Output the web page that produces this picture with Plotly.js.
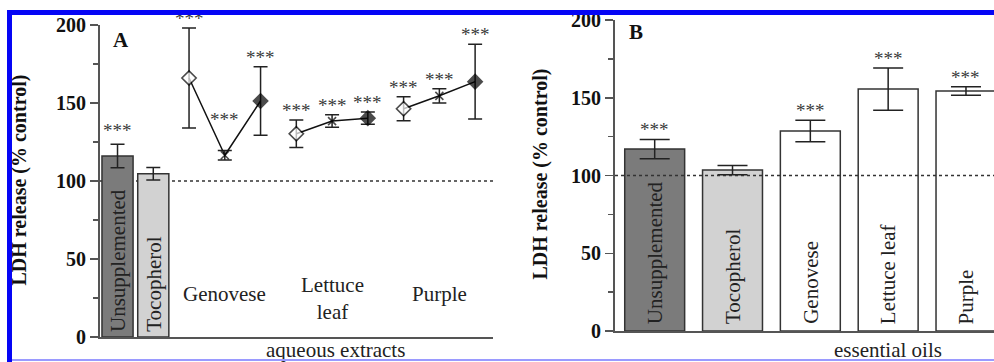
<!DOCTYPE html>
<html>
<head>
<meta charset="utf-8">
<script src="https://cdn.plot.ly/plotly-3.0.1.min.js"></script>
<style>
  html, body { margin: 0; padding: 0; background: #ffffff; overflow: hidden; }
  #wrap { position: relative; width: 994px; height: 362px; }
  #chart { position: absolute; left: 0; top: 0; width: 994px; height: 362px; }
  .frame { position: absolute; pointer-events: none; z-index: 10; }
</style>
</head>
<body>
<div id="wrap">
  <div id="chart"></div>
  <div class="frame" style="left:7px; top:10px; width:987px; height:4.5px; background:#0505f5;"></div>
  <div class="frame" style="left:7px; top:10px; width:5px; height:352px; background:#0505f5;"></div>
  <div class="frame" style="left:12px; top:359px; width:982px; height:1.5px; background:#9a9aff;"></div>
</div>
<script>
// ---------------- data ----------------
const yTickVals = [0, 50, 100, 150, 200];
const controlLevel = 100;

// Panel A: aqueous extracts
const barCatsA = ["Unsupplemented", "Tocopherol"];
const barValsA = [116, 104.7];
const barErrA  = [7.5, 4];
const barSigA  = ["***", ""];

const groupNames = ["Genovese", "Lettuce leaf", "Purple"];
const doseLabels = ["1", "2", "3"];
const genoveseVals = [166, 116.5, 151.3];
const genoveseErr  = [32, 3, 22];
const lettuceVals  = [130.3, 138.4, 140.3];
const lettuceErr   = [8.8, 4, 4];
const purpleVals   = [146.3, 154.6, 163.7];
const purpleErr    = [7.7, 4.6, 24];
const groupSig     = ["***", "***", "***"];
const groupLabelText = ["Genovese", "Lettuce<br>leaf", "Purple"];
const xTitleA = "aqueous extracts";

// Panel B: essential oils
const catsB = ["Unsupplemented", "Tocopherol", "Genovese", "Lettuce leaf", "Purple"];
const valsB = [117, 103.5, 128.6, 155.6, 154.3];
const errB  = [6.2, 3, 6.9, 13.6, 2.7];
const sigB  = ["***", "", "***", "***", "***"];
const xTitleB = "essential oils";

const yTitle = "LDH release (% control)";

// ---------------- styling / construction ----------------
const W = 994, H = 362;
const px = v => v / W;
const py = v => 1 - v / H;
const serif = "'Liberation Serif', 'Times New Roman', Times, serif";
const axisCol = "#555555";
const darkFill = "#7b7b7b", lightFill = "#d2d2d2";

const groupVals = [genoveseVals, lettuceVals, purpleVals];
const groupErr = [genoveseErr, lettuceErr, purpleErr];
const groupCats = groupNames.map(g => doseLabels.map(d => g + " " + d));
const catsA = barCatsA.concat(...groupCats);

const traces = [];

// Panel A bars
traces.push({
  type: "bar", x: barCatsA, y: barValsA, xaxis: "x", yaxis: "y",
  width: 0.87,
  marker: { color: [darkFill, lightFill], line: { color: "#333333", width: 1.5 } },
  error_y: { type: "data", array: barErrA, visible: true, color: "#222222", thickness: 1.5, width: 7 },
  hoverinfo: "skip", showlegend: false
});

// Panel A groups: open diamond, x, filled diamond
groupNames.forEach((g, i) => {
  traces.push({
    type: "scatter", mode: "lines+markers",
    x: groupCats[i], y: groupVals[i], xaxis: "x", yaxis: "y",
    line: { color: "#111111", width: 1.5 },
    marker: {
      symbol: ["diamond", "x-thin", "diamond"],
      size: [11, 8, 11],
      color: ["#ffffff", "#000000", "#000000"],
      line: { color: "#000000", width: 1.6 }
    },
    error_y: { type: "data", array: groupErr[i], visible: true, color: "#222222", thickness: 1.5, width: 7 },
    cliponaxis: false, hoverinfo: "skip", showlegend: false
  });
});

// Panel B bars
traces.push({
  type: "bar", x: catsB, y: valsB, xaxis: "x2", yaxis: "y2",
  width: 0.77,
  marker: { color: [darkFill, lightFill, "#ffffff", "#ffffff", "#ffffff"], line: { color: "#333333", width: 1.5 } },
  error_y: { type: "data", array: errB, visible: true, color: "#222222", thickness: 1.5, width: 15 },
  hoverinfo: "skip", showlegend: false
});

const annotations = [];
const starFont = { family: serif, size: 19, color: "#3a3a3a" };
const starLift = { "Unsupplemented": 4, "Genovese 2": 22 };

function addStar(xref, yref, x, y, text, lift) {
  if (!text) return;
  annotations.push({
    xref: xref, yref: yref, x: x, y: y, text: text, showarrow: false,
    yanchor: "bottom", xanchor: "center", yshift: -3 + (lift || 0), font: starFont
  });
}

// stars panel A
barCatsA.forEach((c, i) => addStar("x", "y", c, barValsA[i] + barErrA[i], barSigA[i], starLift[c]));
groupCats.forEach((cats, gi) => cats.forEach((c, j) =>
  addStar("x", "y", c, groupVals[gi][j] + groupErr[gi][j], groupSig[gi], starLift[c])));
// stars panel B
catsB.forEach((c, i) => addStar("x2", "y2", c, valsB[i] + errB[i], sigB[i], 0));

const labelFont = { family: serif, size: 21, color: "#222222" };
// bar labels (vertical)
barCatsA.forEach(c => annotations.push({
  xref: "x", yref: "y", x: c, y: 0, text: c, textangle: -90, showarrow: false,
  yanchor: "bottom", xanchor: "center", yshift: 3, font: labelFont
}));
catsB.forEach(c => annotations.push({
  xref: "x2", yref: "y2", x: c, y: 0, text: c, textangle: -90, showarrow: false,
  yanchor: "bottom", xanchor: "center", yshift: 5, font: labelFont
}));
// group labels panel A
groupNames.forEach((g, i) => annotations.push({
  xref: "x", yref: "paper", x: groupCats[i][1], y: py(i === 1 ? 298.5 : 294),
  text: groupLabelText[i], showarrow: false, xanchor: "center", yanchor: "middle", font: labelFont
}));
// x titles
annotations.push({ xref: "paper", yref: "paper", x: px(335), y: py(349.5), text: xTitleA,
  showarrow: false, xanchor: "center", yanchor: "middle", font: labelFont });
annotations.push({ xref: "paper", yref: "paper", x: px(888), y: py(349.5), text: xTitleB,
  showarrow: false, xanchor: "center", yanchor: "middle", font: labelFont });
// y titles
const yTitleFont = { family: serif, size: 20, color: "#111111", weight: "bold" };
annotations.push({ xref: "paper", yref: "paper", x: px(18.5), y: py(180), text: yTitle, textangle: -90,
  showarrow: false, xanchor: "center", yanchor: "middle", font: yTitleFont });
annotations.push({ xref: "paper", yref: "paper", x: px(539.5), y: py(174), text: yTitle, textangle: -90,
  showarrow: false, xanchor: "center", yanchor: "middle", font: yTitleFont });
// panel letters
const letterFont = { family: serif, size: 21, color: "#111111", weight: "bold" };
annotations.push({ xref: "paper", yref: "paper", x: px(121), y: py(40), text: "A",
  showarrow: false, xanchor: "center", yanchor: "middle", font: letterFont });
annotations.push({ xref: "paper", yref: "paper", x: px(636), y: py(32), text: "B",
  showarrow: false, xanchor: "center", yanchor: "middle", font: letterFont });

const shapes = [
  { type: "line", xref: "x domain", yref: "y", x0: 0, x1: 1, y0: controlLevel, y1: controlLevel,
    layer: "below", line: { color: "#333333", width: 1.3, dash: "3px,3px" } },
  { type: "line", xref: "x2 domain", yref: "y2", x0: 0, x1: 1, y0: controlLevel, y1: controlLevel,
    layer: "above", line: { color: "#333333", width: 1.3, dash: "3px,3px" } }
];

function yAxis(domain, anchor) {
  return {
    domain: domain, anchor: anchor, range: [0, 200], tickvals: yTickVals,
    ticks: "outside", ticklen: 8, tickwidth: 1.5, tickcolor: axisCol,
    showline: true, linecolor: axisCol, linewidth: 2,
    minor: { tickvals: [25, 75, 125, 175], ticks: "outside", ticklen: 5, tickwidth: 1.5, tickcolor: axisCol },
    tickfont: { family: serif, size: 20, color: "#111111", weight: "bold" },
    showgrid: false, zeroline: false, fixedrange: true
  };
}
function xAxis(domain, anchor, cats, range) {
  return {
    domain: domain, anchor: anchor, type: "category", categoryorder: "array", categoryarray: cats,
    range: range, showline: true, linecolor: axisCol, linewidth: 2, ticks: "",
    showticklabels: false, showgrid: false, zeroline: false, fixedrange: true
  };
}

const layout = {
  width: W, height: H, margin: { l: 0, r: 0, t: 0, b: 0 },
  paper_bgcolor: "#ffffff", plot_bgcolor: "rgba(0,0,0,0)",
  showlegend: false, barmode: "group",
  xaxis: xAxis([px(100), px(493)], "y", catsA, [-0.49, 10.5]),
  yaxis: yAxis([py(337), py(25)], "x"),
  xaxis2: xAxis([px(615), 1], "y2", catsB, [-0.51, 4.36]),
  yaxis2: yAxis([py(331), py(20)], "x2"),
  annotations: annotations, shapes: shapes
};

Plotly.newPlot("chart", traces, layout, { staticPlot: true, displayModeBar: false });
</script>
</body>
</html>
